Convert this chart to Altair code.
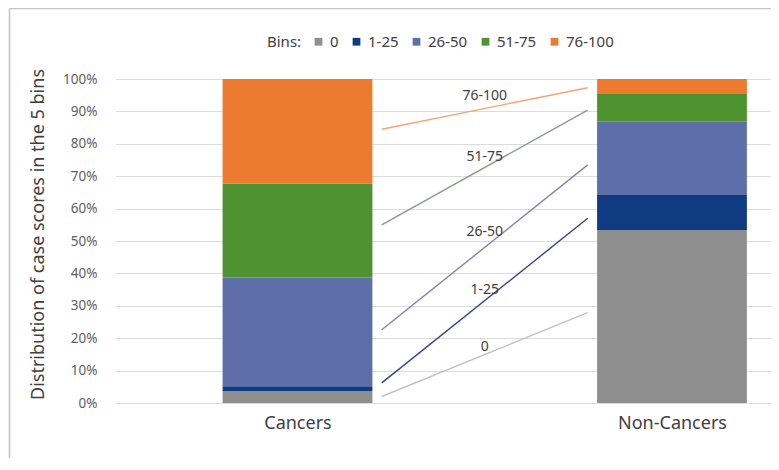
import altair as alt
import pandas as pd

# ---- data ----
categories = ["Cancers", "Non-Cancers"]
cat_pos = [0, 1]
bins = ["0", "1-25", "26-50", "51-75", "76-100"]
cancers = [3.6, 1.6, 33.5, 29.0, 32.3]          # % per bin
non_cancers = [53.4, 10.8, 22.6, 8.8, 4.4]      # % per bin
bin_colors = ["#8f8f8f", "#0e3b82", "#5e6ea9", "#4f9230", "#ec7b30"]
line_colors = ["#c2c2c2", "#34468a", "#7e84b4", "#8f9a86", "#f2a577"]
line_x = [0.225, 0.775]                          # connector ends (category units)
line_start = [2.0, 6.2, 22.6, 55.0, 84.5]        # % at Cancers side
line_end = [27.9, 57.0, 73.5, 90.4, 97.3]        # % at Non-Cancers side
label_x = 0.5
label_y = [17.4, 34.9, 52.8, 75.9, 94.8]
y_ticks = [0, 10, 20, 30, 40, 50, 60, 70, 80, 90, 100]
y_title = "Distribution of case scores in the 5 bins"
FONT = "Noto Sans"

rows = []
for cat, pos, vals in zip(categories, cat_pos, [cancers, non_cancers]):
    for i, (b, v) in enumerate(zip(bins, vals)):
        rows.append({"category": cat, "pos": pos, "bin": b, "order": i, "value": v})
bar_df = pd.DataFrame(rows)

line_rows = []
for b, s, e in zip(bins, line_start, line_end):
    line_rows.append({"lbin": b, "x": line_x[0], "y": s})
    line_rows.append({"lbin": b, "x": line_x[1], "y": e})
line_df = pd.DataFrame(line_rows)

label_df = pd.DataFrame({"lbin": bins, "x": [label_x] * len(bins), "y": label_y})

xscale = alt.Scale(domain=[-0.4873, 1.2644], nice=False, zero=False)
yscale = alt.Scale(domain=[0, 100], nice=False)

xaxis = alt.Axis(values=[0, 1], labelExpr="datum.value == 0 ? 'Cancers' : 'Non-Cancers'",
                 grid=False, ticks=False, tickSize=0, domain=False, title=None,
                 labelFontSize=18, labelColor="#404040", labelPadding=11, labelFont=FONT)
yaxis = alt.Axis(values=y_ticks, tickCount=11, labelOverlap=False, labelExpr="datum.value + '%'",
                 grid=True, gridColor="#dcdcdc", gridWidth=1, ticks=False, tickSize=0, domain=False,
                 labelFontSize=13.5, labelColor="#606060", labelPadding=18, labelFont=FONT,
                 title=y_title, titleFontSize=18, titleColor="#404040",
                 titleFontWeight="normal", titleFont=FONT, titleX=-77, titleY=155,
                 titleBaseline="middle", titleAngle=270)

bars = (
    alt.Chart(bar_df)
    .transform_stack(stack="value", groupby=["category"], sort=[alt.SortField("order")], as_=["y0", "y1"])
    .transform_calculate(xl="datum.pos - 0.2", xr="datum.pos + 0.2")
    .mark_rect()
    .encode(
        x=alt.X("xl:Q", scale=xscale, axis=xaxis),
        x2="xr:Q",
        y=alt.Y("y0:Q", scale=yscale, axis=yaxis),
        y2="y1:Q",
        fill=alt.Fill("bin:N", sort=bins, scale=alt.Scale(domain=bins, range=bin_colors),
                      legend=alt.Legend(title="Bins:", orient="none", legendX=152, legendY=-45,
                                        direction="horizontal", titleOrient="left",
                                        symbolType="square", symbolSize=60, symbolStrokeWidth=0,
                                        labelFontSize=15, titleFontSize=15, titleFontWeight="normal",
                                        labelColor="#404040", titleColor="#404040",
                                        labelFont=FONT, titleFont=FONT,
                                        columnPadding=10, labelOffset=4, titlePadding=9)),
    )
)

lines = (
    alt.Chart(line_df)
    .mark_line(strokeWidth=1.4)
    .encode(
        x=alt.X("x:Q", scale=xscale, axis=xaxis),
        y=alt.Y("y:Q", scale=yscale, axis=yaxis),
        stroke=alt.Stroke("lbin:N", scale=alt.Scale(domain=bins, range=line_colors), legend=None),
        detail="lbin:N",
    )
)

labels = (
    alt.Chart(label_df)
    .mark_text(font=FONT, fontSize=14, color="#404040")
    .encode(
        x=alt.X("x:Q", scale=xscale, axis=xaxis),
        y=alt.Y("y:Q", scale=yscale, axis=yaxis),
        text="lbin:N",
    )
)

frame_data = alt.Data(values=[{"k": 1}])
frame_left = alt.Chart(frame_data).mark_rule(color="#c4c4c4", strokeWidth=1.5).encode(
    x=alt.value(-105.5), y=alt.value(-70.5), y2=alt.value(400)
)
frame_top = alt.Chart(frame_data).mark_rule(color="#c4c4c4", strokeWidth=1.5).encode(
    x=alt.value(-105.5), x2=alt.value(700), y=alt.value(-70.5)
)

chart = (
    alt.layer(bars, lines, labels, frame_left, frame_top)
    .properties(width=656, height=324,
                autosize=alt.AutoSizeParams(type="none"),
                padding={"left": 107, "top": 71, "right": 0, "bottom": 55})
    .configure(font=FONT, background="white")
    .configure_view(stroke=None)
)

chart.save("out.html", embed_options={"renderer": "svg", "actions": False})
